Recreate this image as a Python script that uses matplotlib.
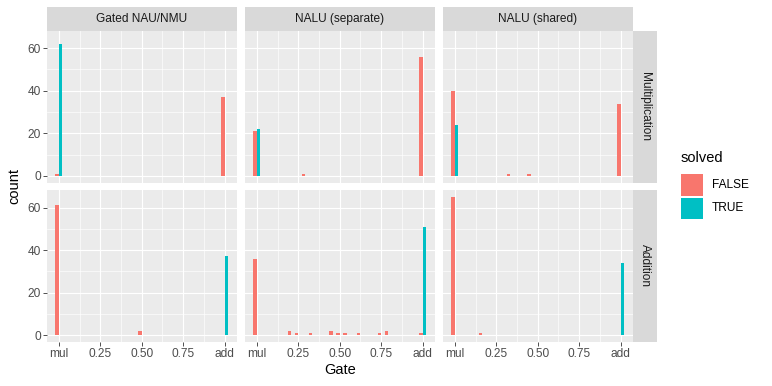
import numpy as np
import matplotlib
matplotlib.use("Agg")
import matplotlib.pyplot as plt
from matplotlib.patches import Rectangle

plt.rcParams['font.family'] = ['Liberation Sans', 'DejaVu Sans']

# facets
models = ['Gated NAU/NMU', 'NALU (separate)', 'NALU (shared)']
operations = ['Multiplication', 'Addition']
solved_labels = ['FALSE', 'TRUE']

# histogram: 25 bins over gate in [0, 1] (bin index k -> gate k/24)
bin_width = 1 / 24

# multiplication row
mul_gated_false_bins = [0, 24]
mul_gated_false_counts = [1, 37]
mul_gated_true_bins = [0]
mul_gated_true_counts = [62]

mul_sep_false_bins = [0, 7, 24]
mul_sep_false_counts = [21, 1, 56]
mul_sep_true_bins = [0]
mul_sep_true_counts = [22]

mul_shared_false_bins = [0, 8, 11, 24]
mul_shared_false_counts = [40, 1, 1, 34]
mul_shared_true_bins = [0]
mul_shared_true_counts = [24]

# addition row
add_gated_false_bins = [0, 12]
add_gated_false_counts = [61, 2]
add_gated_true_bins = [24]
add_gated_true_counts = [37]

add_sep_false_bins = [0, 5, 6, 8, 11, 12, 13, 15, 18, 19, 24]
add_sep_false_counts = [36, 2, 1, 1, 2, 1, 1, 1, 1, 2, 1]
add_sep_true_bins = [24]
add_sep_true_counts = [51]

add_shared_false_bins = [0, 4]
add_shared_false_counts = [65, 1]
add_shared_true_bins = [24]
add_shared_true_counts = [34]

x_ticks = [0, 0.25, 0.5, 0.75, 1]
x_ticklabels = ['mul', '0.25', '0.50', '0.75', 'add']
y_ticks = [0, 20, 40, 60]

panels = {
    (0, 0): (mul_gated_false_bins, mul_gated_false_counts, mul_gated_true_bins, mul_gated_true_counts),
    (0, 1): (mul_sep_false_bins, mul_sep_false_counts, mul_sep_true_bins, mul_sep_true_counts),
    (0, 2): (mul_shared_false_bins, mul_shared_false_counts, mul_shared_true_bins, mul_shared_true_counts),
    (1, 0): (add_gated_false_bins, add_gated_false_counts, add_gated_true_bins, add_gated_true_counts),
    (1, 1): (add_sep_false_bins, add_sep_false_counts, add_sep_true_bins, add_sep_true_counts),
    (1, 2): (add_shared_false_bins, add_shared_false_counts, add_shared_true_bins, add_shared_true_counts),
}

colors = ['#F8766D', '#00BFC4']
W, H = 772, 386
fig = plt.figure(figsize=(W / 100, H / 100), dpi=100)

def px_axes(x0, y0, x1, y1):
    return fig.add_axes([x0 / W, 1 - y1 / H, (x1 - x0) / W, (y1 - y0) / H])

col_x = [46.7, 244.7, 442.7]
panel_w = 190
row_y = [30.7, 190.0]
panel_h = 152
strip = 24

# ggplot-like limits (5% expansion)
lo, hi = -bin_width / 2, 1 + bin_width / 2
xlim = (lo - 0.05 * (hi - lo), hi + 0.05 * (hi - lo))
ymax = max(max(p[1] + p[3]) for p in panels.values())
ylim = (-0.05 * ymax, ymax * 1.05)

for (r, c), (fb, fc, tb, tc) in panels.items():
    ax = px_axes(col_x[c], row_y[r], col_x[c] + panel_w, row_y[r] + panel_h)
    ax.set_facecolor('#EBEBEB')
    for s in ax.spines.values():
        s.set_visible(False)
    ax.set_xlim(xlim)
    ax.set_ylim(ylim)
    ax.set_xticks(x_ticks)
    ax.set_xticks([0.125, 0.375, 0.625, 0.875], minor=True)
    ax.set_yticks(y_ticks)
    ax.set_yticks([10, 30, 50], minor=True)
    ax.grid(which='major', color='white', lw=0.85)
    ax.grid(which='minor', color='white', lw=0.45)
    ax.set_axisbelow(True)
    ax.tick_params(which='minor', length=0)
    ax.tick_params(which='major', length=2.7, width=0.6, color='#333333',
                   labelsize=8.6, labelcolor='#4D4D4D', pad=1.5)

    # dodged bars: FALSE left half of the bin, TRUE right half
    xf = np.array(fb) * bin_width
    xt = np.array(tb) * bin_width
    ax.bar(xf - bin_width / 4, fc, width=bin_width / 2, color=colors[0], lw=0)
    ax.bar(xt + bin_width / 4, tc, width=bin_width / 2, color=colors[1], lw=0)

    if r == 1:
        ax.set_xticklabels(x_ticklabels)
    else:
        ax.tick_params(axis='x', which='both', length=0, labelbottom=False)
    if c != 0:
        ax.tick_params(axis='y', which='both', length=0, labelleft=False)

    # top strips
    if r == 0:
        sa = px_axes(col_x[c], row_y[0] - strip, col_x[c] + panel_w, row_y[0])
        sa.set_facecolor('#D9D9D9')
        sa.set_xticks([]); sa.set_yticks([])
        for s in sa.spines.values():
            s.set_visible(False)
        sa.text(0.5, 0.5, models[c], ha='center', va='center', fontsize=8.6,
                color='#1A1A1A', transform=sa.transAxes)
    # right strips
    if c == 2:
        sa = px_axes(col_x[2] + panel_w, row_y[r], col_x[2] + panel_w + strip, row_y[r] + panel_h)
        sa.set_facecolor('#D9D9D9')
        sa.set_xticks([]); sa.set_yticks([])
        for s in sa.spines.values():
            s.set_visible(False)
        sa.text(0.5, 0.5, operations[r], ha='center', va='center', fontsize=8.6,
                color='#1A1A1A', rotation=-90, transform=sa.transAxes)

# axis titles
fig.text(339.7 / W, 1 - 370 / H, 'Gate', ha='center', va='center', fontsize=10.5)
fig.text(14 / W, 1 - 186 / H, 'count', ha='center', va='center', fontsize=10.5, rotation=90)

# legend
fig.text(680.7 / W, 1 - 158.3 / H, 'solved', ha='left', va='center', fontsize=10.5)
key_y = [174, 197.5]
for i, lab in enumerate(solved_labels):
    fig.patches.append(Rectangle((680.7 / W, 1 - (key_y[i] + 21.5) / H), 22 / W, 21.5 / H,
                                 transform=fig.transFigure, facecolor=colors[i], lw=0))
    fig.text(711.7 / W, 1 - (key_y[i] + 10.7) / H, lab, ha='left', va='center', fontsize=8.6)

fig.savefig('out.png', dpi=100)
